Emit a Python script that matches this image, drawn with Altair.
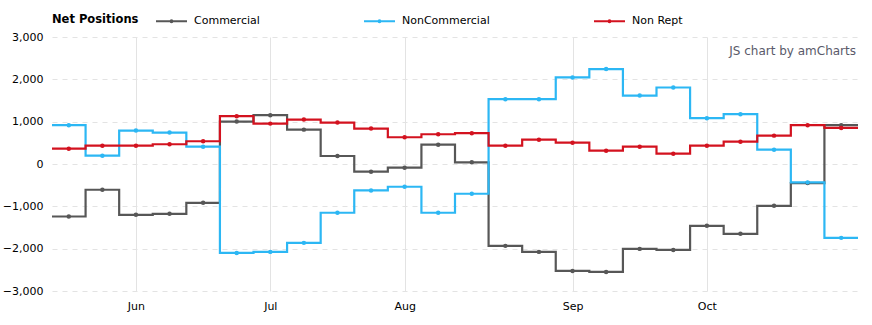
import altair as alt
import pandas as pd

# ---- data (weekly, equally spaced categories) ----
dates = ["2017-05-23", "2017-05-30", "2017-06-06", "2017-06-13", "2017-06-20", "2017-06-27",
         "2017-07-04", "2017-07-11", "2017-07-18", "2017-07-25", "2017-08-01", "2017-08-08",
         "2017-08-15", "2017-08-22", "2017-08-29", "2017-09-05", "2017-09-12", "2017-09-19",
         "2017-09-26", "2017-10-03", "2017-10-10", "2017-10-17", "2017-10-24", "2017-10-31"]
series_names = ["Commercial", "NonCommercial", "Non Rept"]
commercial = [-1240, -608, -1200, -1177, -916, 1002, 1153, 812, 189, -182, -87, 457,
              40, -1934, -2076, -2526, -2550, -2005, -2029, -1461, -1650, -987, -450, 916]
noncommercial = [916, 197, 789, 742, 410, -2100, -2076, -1863, -1152, -624, -537, -1152,
                 -703, 1532, 1532, 2044, 2242, 1617, 1807, 1082, 1177, 339, -434, -1745]
nonrept = [362, 433, 433, 466, 537, 1129, 954, 1049, 978, 836, 632, 703,
           727, 433, 575, 504, 315, 410, 244, 433, 528, 670, 916, 852]
colors = ["#575757", "#2CB7F4", "#D3121F"]
month_abbr = {"01": "Jan", "02": "Feb", "03": "Mar", "04": "Apr", "05": "May", "06": "Jun",
              "07": "Jul", "08": "Aug", "09": "Sep", "10": "Oct", "11": "Nov", "12": "Dec"}
y_ticks = [-3000, -2000, -1000, 0, 1000, 2000, 3000]
legend_title = "Net Positions"
credit = "JS chart by amCharts"

# ---- tables ----
values = {"Commercial": commercial, "NonCommercial": noncommercial, "Non Rept": nonrept}
n = len(dates)
pts_rows, step_rows = [], []
for s in series_names:
    vals = values[s]
    for i, v in enumerate(vals):
        pts_rows.append({"series": s, "i": i, "v": v})
        step_rows.append({"series": s, "x": i - 0.5, "v": v})
    step_rows.append({"series": s, "x": n - 0.5, "v": vals[-1]})
pts = pd.DataFrame(pts_rows)
steps = pd.DataFrame(step_rows)

ticks, labels = [], []
for i, d in enumerate(dates):
    if i > 0 and d[5:7] != dates[i - 1][5:7]:
        ticks.append(i)
        labels.append(month_abbr[d[5:7]])
label_expr = " : ".join(f"datum.value == {t} ? '{l}'" for t, l in zip(ticks, labels)) + " : ''"

FONT = "DejaVu Sans"
W, H = 806, 254

x_scale = alt.Scale(domain=[-0.5, n - 0.5], nice=False, zero=False)
y_scale = alt.Scale(domain=[-3000, 3000], nice=False, zero=False)
color_scale = alt.Scale(domain=series_names, range=colors)

sym = "M-1,0L1,0M-0.06,0A0.06,0.06 0 1,1 0.06,0A0.06,0.06 0 1,1 -0.06,0Z"

lines = alt.Chart(steps).mark_line(interpolate="step-after", strokeWidth=2.2).encode(
    x=alt.X("x:Q", scale=x_scale, title=None,
            axis=alt.Axis(values=ticks, labelExpr=label_expr, grid=True, gridDash=[],
                          gridColor="#e3e3e3", gridWidth=1, domain=False, ticks=False,
                          labelPadding=9, labelFont=FONT, labelFontSize=11,
                          labelColor="#000000", labelAngle=0)),
    y=alt.Y("v:Q", scale=y_scale, title=None,
            axis=alt.Axis(values=y_ticks, format=",.0f", grid=True, gridDash=[5, 5],
                          gridColor="#e3e3e3", gridWidth=1, domain=False, ticks=False,
                          labelPadding=9, labelFont=FONT, labelFontSize=11,
                          labelColor="#000000")),
    color=alt.Color("series:N", scale=color_scale, sort=series_names,
                    legend=alt.Legend(title=None, orient="none", legendX=103, legendY=-32.5,
                                      direction="horizontal",
                                      labelFont=FONT, labelFontSize=11, labelColor="#000000",
                                      symbolType=sym, symbolSize=961, symbolStrokeWidth=2,
                                      labelOffset=6, columnPadding=100)),
    detail="series:N",
    order=alt.Order("x:Q"),
)

points = alt.Chart(pts).mark_circle(size=20, opacity=1).encode(
    x=alt.X("i:Q", scale=x_scale),
    y=alt.Y("v:Q", scale=y_scale),
    color=alt.Color("series:N", scale=color_scale, legend=None),
)

title_df = pd.DataFrame({"t": [legend_title]})
title_text = alt.Chart(title_df).mark_text(align="left", baseline="middle", font=FONT,
                                            fontSize=11.5, fontWeight="bold",
                                            color="#000000").encode(
    text="t:N", x=alt.value(0), y=alt.value(-17))

credit_df = pd.DataFrame({"t": [credit]})
credit_text = alt.Chart(credit_df).mark_text(align="right", baseline="middle", font=FONT,
                                              fontSize=12, color="#5a5a6a").encode(
    text="t:N", x=alt.value(W - 2), y=alt.value(14))

chart = alt.layer(lines, points, title_text, credit_text).properties(
    width=W, height=H,
    autosize=alt.AutoSizeParams(type="none"),
    padding={"left": 52, "top": 37, "right": 14, "bottom": 34},
).configure(background="white").configure_view(stroke=None)

chart.save("out.html", embed_options={"renderer": "svg", "actions": False})
